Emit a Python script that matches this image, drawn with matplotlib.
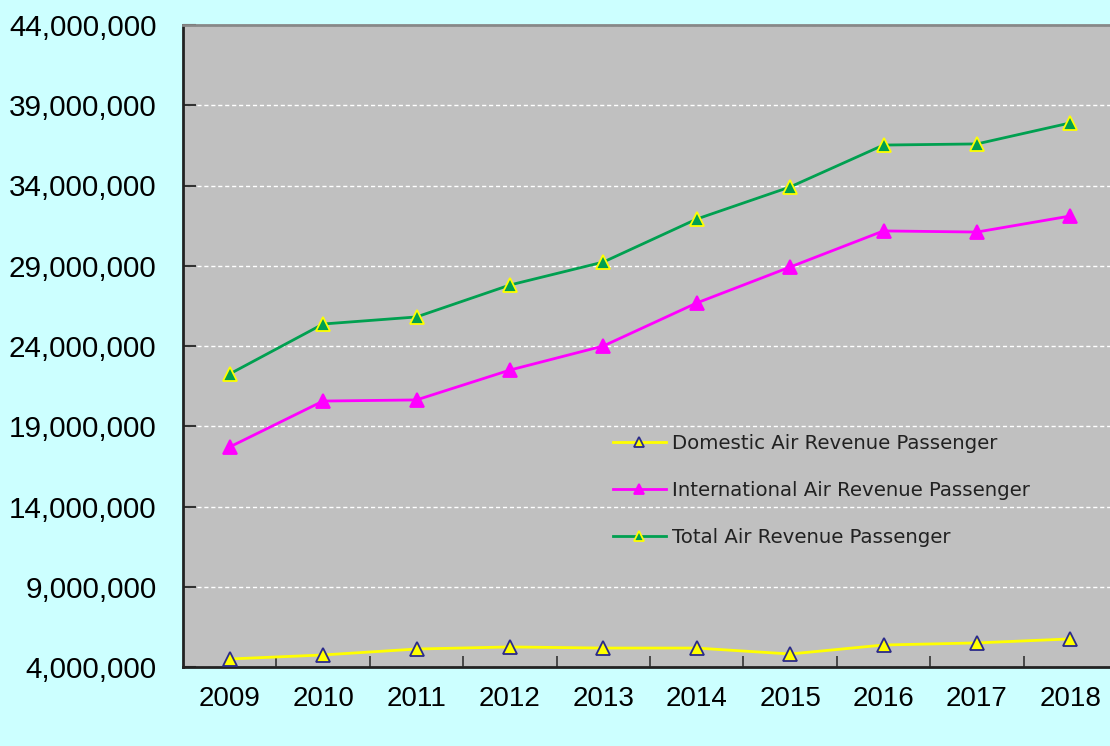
import matplotlib
matplotlib.use("Agg")
import matplotlib.pyplot as plt
from matplotlib.ticker import FuncFormatter, FixedLocator

years = ["2009", "2010", "2011", "2012", "2013", "2014", "2015", "2016", "2017", "2018"]
domestic = [4500000, 4750000, 5120000, 5250000, 5180000, 5180000, 4810000, 5370000, 5500000, 5750000]
international = [17710000, 20570000, 20640000, 22500000, 24000000, 26680000, 28920000, 31170000, 31100000, 32100000]
total = [22260000, 25370000, 25810000, 27800000, 29230000, 31910000, 33910000, 36520000, 36590000, 37900000]
labels = ["Domestic Air Revenue Passenger", "International Air Revenue Passenger", "Total Air Revenue Passenger"]
yticks = [4000000, 9000000, 14000000, 19000000, 24000000, 29000000, 34000000, 39000000, 44000000]

W, H = 1110, 746
fig = plt.figure(figsize=(W / 100, H / 100), dpi=100)
fig.patch.set_facecolor("#CCFFFF")
left, right, top, bottom = 183, 1117, 25, 667
ax = fig.add_axes([left / W, (H - bottom) / H, (right - left) / W, (bottom - top) / H])
ax.set_facecolor("#C0C0C0")

x = list(range(len(years)))
ax.plot(x, domestic, color="#FFFF00", lw=2, marker="^", ms=10.5, mfc="#FFFF00", mec="#2A2A8A", mew=1.3,
        label=labels[0], zorder=3)
ax.plot(x, international, color="#FF00FF", lw=2, marker="^", ms=10.5, mfc="#FF00FF", mec="#FF00FF", mew=1.3,
        label=labels[1], zorder=3)
ax.plot(x, total, color="#00A050", lw=2, marker="^", ms=10.5, mfc="#00A050", mec="#FFFF00", mew=1.3,
        label=labels[2], zorder=3)

ax.set_xlim(-0.5, len(years) - 0.5)
ax.set_ylim(yticks[0], yticks[-1])
ax.yaxis.set_major_locator(FixedLocator(yticks))
ax.yaxis.set_major_formatter(FuncFormatter(lambda v, p: f"{int(round(v)):,}"))
ax.set_xticks(x)
ax.set_xticklabels(years)
ax.xaxis.set_minor_locator(FixedLocator([i + 0.5 for i in range(len(years) - 1)]))
ax.tick_params(axis="x", which="major", length=0, labelsize=20, pad=14)
ax.tick_params(axis="x", which="minor", direction="in", length=8, width=1.2, color="#333333")
ax.tick_params(axis="y", which="major", direction="in", length=9, width=1.5, color="#333333",
               labelsize=21.3, pad=19)
for lab in ax.get_xticklabels() + ax.get_yticklabels():
    lab.set_fontfamily("Liberation Sans")

ax.grid(axis="y", color="white", ls=(0, (3, 2)), lw=1)
ax.spines["top"].set_color("#888888")
ax.spines["top"].set_linewidth(2)
ax.spines["right"].set_visible(False)
ax.spines["left"].set_color("#222222")
ax.spines["left"].set_linewidth(2)
ax.spines["bottom"].set_color("#222222")
ax.spines["bottom"].set_linewidth(2)

leg = ax.legend(loc="upper left", bbox_to_anchor=((595 - left) / (right - left), (bottom - 416) / (bottom - top)),
                frameon=False, fontsize=14.2, handlelength=2.7, labelspacing=1.42, handletextpad=0.3,
                markerscale=0.7)
for t in leg.get_texts():
    t.set_color("#222222")

fig.savefig("out.png", dpi=100, facecolor=fig.get_facecolor())
